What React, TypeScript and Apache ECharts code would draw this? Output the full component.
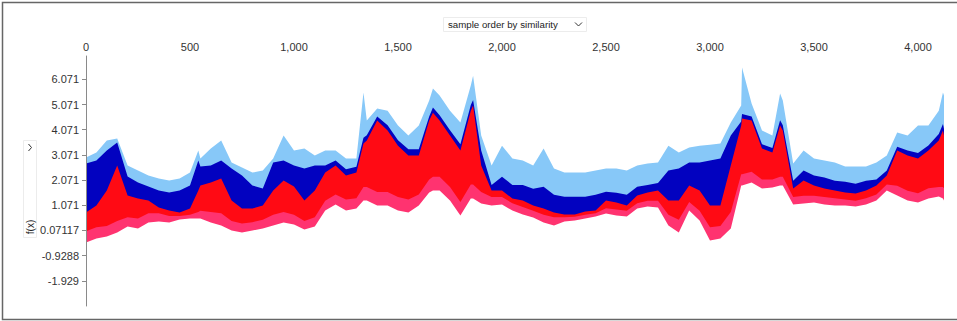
import React, { useEffect, useRef } from "react";
import * as echarts from "echarts";

// sample positions (ordered by similarity)
const sampleIndex = [
  0, 50, 100, 150, 200, 250, 300, 350, 400, 450, 500, 540, 550, 600, 650, 700, 750, 800, 850, 900,
  950, 1000, 1050, 1100, 1150, 1200, 1250, 1300, 1334, 1350, 1400, 1450, 1500, 1550, 1600, 1650, 1668, 1700, 1750, 1800,
  1850, 1861, 1900, 1950, 2000, 2050, 2100, 2150, 2200, 2250, 2300, 2350, 2400, 2450, 2500, 2550, 2600, 2650, 2700, 2750,
  2800, 2850, 2900, 2950, 3000, 3050, 3100, 3150, 3154, 3200, 3250, 3300, 3337, 3350, 3400, 3450, 3500, 3550, 3600, 3650,
  3700, 3750, 3800, 3850, 3900, 3950, 4000, 4050, 4100, 4120, 4125,
];

// upper edge of the negative (blue) forces
const topEdge = [
  2.97, 3.17, 3.64, 3.72, 2.65, 2.45, 2.25, 2.13, 2.06, 2.13, 2.37, 3.25, 2.93, 3.33, 3.64, 2.77, 2.57, 2.37, 2.45, 2.93,
  3.84, 3.25, 3.33, 3.05, 3.25, 3.25, 2.93, 2.93, 5.55, 4.44, 4.91, 4.83, 4.24, 3.84, 4.24, 5.23, 5.71, 5.43, 4.83, 4.36,
  5.83, 6.22, 3.84, 2.65, 3.44, 2.93, 2.85, 2.65, 3.33, 2.53, 2.37, 2.37, 2.37, 2.45, 2.53, 2.53, 2.45, 2.65, 2.73, 2.77,
  3.44, 3.17, 3.37, 3.44, 3.48, 3.52, 4.36, 5.03, 6.54, 5.11, 4.04, 3.84, 5.51, 5.23, 2.73, 3.25, 2.93, 2.85, 2.77, 2.61,
  2.61, 2.61, 2.77, 3.05, 3.96, 3.84, 4.24, 4.24, 4.83, 5.55, 5.43,
];

// boundary between the dark-blue and light-blue forces
const darkBlueEdge = [
  2.73, 2.85, 3.25, 3.56, 2.21, 1.98, 1.82, 1.66, 1.58, 1.66, 1.86, 2.85, 2.61, 2.65, 2.85, 2.53, 2.25, 1.86, 1.74, 2.77,
  2.85, 2.65, 2.53, 2.65, 2.65, 2.85, 2.5, 2.6, 3.75, 3.85, 4.6, 4.25, 3.65, 3.3, 3.3, 4.6, 4.95, 4.65, 4.05, 3.5,
  5.05, 5.25, 3.25, 1.88, 2.2, 1.88, 1.88, 1.73, 1.81, 1.49, 1.41, 1.41, 1.41, 1.49, 1.61, 1.57, 1.49, 1.81, 1.88, 1.96,
  2.45, 2.53, 2.77, 2.77, 2.85, 2.93, 3.84, 4.4, 4.7, 4.6, 3.5, 3.35, 4.45, 4.25, 2.05, 2.45, 2.25, 2.17, 2.05, 2.01,
  1.93, 2.05, 2.1, 2.45, 3.4, 3.25, 3.15, 3.45, 3.9, 4.3, 4.1,
];

// model output f(x)
const fxValue = [
  0.78, 1.06, 1.66, 2.65, 1.46, 1.34, 1.26, 0.98, 0.86, 0.78, 0.94, 1.66, 1.86, 1.98, 2.13, 1.26, 0.94, 0.94, 1.06, 1.66,
  2.06, 1.82, 1.26, 1.66, 2.37, 2.65, 2.25, 2.37, 3.52, 3.64, 4.44, 4.04, 3.44, 3.05, 3.05, 4.44, 4.75, 4.44, 3.84, 3.25,
  4.83, 5.03, 2.65, 1.66, 1.66, 1.34, 1.26, 1.06, 0.94, 0.78, 0.71, 0.71, 0.82, 0.86, 1.26, 1.18, 1.06, 1.46, 1.58, 1.66,
  1.26, 1.26, 1.86, 1.66, 1.06, 1.06, 2.65, 4.24, 4.52, 4.44, 3.33, 3.17, 4.24, 4.04, 1.74, 2.06, 1.86, 1.74, 1.66, 1.58,
  1.54, 1.66, 1.86, 2.25, 3.25, 3.05, 2.93, 3.25, 3.64, 4.04, 3.84,
];

// boundary between the red and pink positive forces
const pinkEdge = [
  0.04, 0.2, 0.25, 0.45, 0.6, 0.55, 0.75, 0.75, 0.65, 0.65, 0.7, 0.8, 0.85, 0.8, 0.75, 0.45, 0.35, 0.4, 0.5, 0.7,
  0.8, 0.7, 0.45, 0.6, 1.25, 1.5, 1.3, 1.35, 1.8, 1.8, 1.6, 1.6, 1.4, 1.3, 1.5, 2.1, 2.2, 2.2, 1.8, 1.2,
  1.9, 1.9, 1.6, 1.4, 1.4, 1.15, 1.0, 0.85, 0.7, 0.6, 0.6, 0.62, 0.7, 0.75, 0.95, 0.9, 0.85, 1.15, 1.25, 1.25,
  0.7, 0.5, 1.2, 0.85, 0.2, 0.25, 0.8, 2.3, 2.3, 2.4, 2.1, 2.1, 2.2, 2.2, 1.4, 1.45, 1.45, 1.4, 1.35, 1.3,
  1.25, 1.35, 1.5, 1.9, 1.85, 1.65, 1.55, 1.75, 1.8, 1.8, 1.75,
];

// lower edge of the positive (red) forces
const lowEdge = [
  -0.41, -0.25, -0.17, -0.01, 0.23, 0.15, 0.39, 0.43, 0.39, 0.51, 0.55, 0.55, 0.55, 0.39, 0.27, 0.07, -0.01, 0.07, 0.15, 0.27,
  0.39, 0.31, 0.11, 0.23, 0.86, 1.1, 0.86, 0.94, 1.26, 1.26, 1.06, 1.06, 0.86, 0.78, 1.06, 1.58, 1.66, 1.66, 1.26, 0.67,
  1.34, 1.34, 1.14, 1.06, 1.1, 0.86, 0.71, 0.59, 0.39, 0.27, 0.43, 0.47, 0.55, 0.63, 0.74, 0.67, 0.63, 0.94, 1.02, 0.98,
  0.27, -0.01, 0.86, 0.47, -0.33, -0.25, 0.15, 1.86, 1.86, 1.98, 1.74, 1.78, 1.86, 1.86, 1.1, 1.14, 1.18, 1.1, 1.06, 1.06,
  1.02, 1.1, 1.26, 1.66, 1.46, 1.26, 1.18, 1.34, 1.42, 1.34, 1.26,
];

const xTickValues = [0, 500, 1000, 1500, 2000, 2500, 3000, 3500, 4000];
const yTickValues = [-1.92883, -0.92883, 0.07117, 1.07117, 2.07117, 3.07117, 4.07117, 5.07117, 6.07117];
const yTickLabels = ["-1.929", "-0.9288", "0.07117", "1.071", "2.071", "3.071", "4.071", "5.071", "6.071"];

const FONT = "'Liberation Sans', Arial, Helvetica, sans-serif";

export default function App() {
  const ref = useRef<HTMLDivElement>(null);

  useEffect(() => {
    if (!ref.current) return;
    const chart = echarts.init(ref.current, undefined, { renderer: "svg" });

    const bands = [
      { name: "negative light", vals: topEdge, color: "#87c8f8" },
      { name: "negative dark", vals: darkBlueEdge, color: "#0202c0" },
      { name: "positive red", vals: fxValue, color: "#ff0a14" },
      { name: "positive pink", vals: pinkEdge, color: "#ff3370" },
      { name: "below", vals: lowEdge, color: "#ffffff" },
    ];

    const series = bands.map((b, i) => ({
      type: "line",
      name: b.name,
      data: sampleIndex.map((s, j) => [s, b.vals[j]]),
      showSymbol: false,
      symbol: "none",
      silent: true,
      z: 2 + i,
      lineStyle: { width: 0 },
      areaStyle: { color: b.color, opacity: 1, origin: "start" },
    }));

    const option: any = {
      animation: false,
      textStyle: { fontFamily: FONT },
      grid: {
        left: 86,
        top: 56,
        width: 858,
        height: 250,
        containLabel: false,
        outerBoundsMode: "none",
      },
      xAxis: {
        type: "value",
        position: "top",
        min: 0,
        max: 4125,
        interval: 500,
        axisLine: { show: false },
        splitLine: { show: false },
        axisTick: {
          show: true,
          inside: true,
          length: 3,
          lineStyle: { color: "#999" },
          customValues: xTickValues,
        },
        axisLabel: {
          color: "#333",
          fontSize: 11,
          fontFamily: FONT,
          margin: 4,
          customValues: xTickValues,
          formatter: (v: number) => v.toLocaleString("en-US"),
        },
      },
      yAxis: {
        type: "value",
        min: -2.92883,
        max: 7.0,
        z: 20,
        axisLine: { show: true, lineStyle: { color: "#8a8a8a", width: 1 } },
        splitLine: { show: false },
        axisTick: {
          show: true,
          length: 4,
          lineStyle: { color: "#8a8a8a" },
          customValues: yTickValues,
        },
        axisLabel: {
          color: "#333",
          fontSize: 11,
          fontFamily: FONT,
          margin: 7,
          customValues: yTickValues,
          formatter: (v: number) => {
            const i = yTickValues.findIndex((t) => Math.abs(t - v) < 1e-4);
            return i >= 0 ? yTickLabels[i] : "";
          },
        },
      },
      series,
      graphic: [
        {
          type: "rect",
          silent: true,
          z: 100,
          shape: { x: 2.5, y: 2.5, width: 1000, height: 317 },
          style: { fill: "none", stroke: "#666", lineWidth: 1.5 },
        },
        {
          type: "rect",
          silent: true,
          shape: { x: 443.5, y: 17.5, width: 143, height: 14 },
          style: { fill: "#fff", stroke: "#ececec", lineWidth: 1 },
        },
        {
          type: "text",
          silent: true,
          x: 448,
          y: 24.5,
          style: {
            text: "sample order by similarity",
            fill: "#222",
            fontSize: 9.7,
            fontFamily: FONT,
            verticalAlign: "middle",
            align: "left",
          },
        },
        {
          type: "polyline",
          silent: true,
          shape: { points: [[575, 22.5], [578.5, 26], [582, 22.5]] },
          style: { stroke: "#333", lineWidth: 1, fill: "none" },
        },
        {
          type: "rect",
          silent: true,
          shape: { x: 23.5, y: 140.5, width: 13, height: 97 },
          style: { fill: "#fff", stroke: "#ececec", lineWidth: 1 },
        },
        {
          type: "polyline",
          silent: true,
          shape: { points: [[28.5, 144], [31.5, 147.5], [28.5, 151]] },
          style: { stroke: "#333", lineWidth: 1, fill: "none" },
        },
        {
          type: "text",
          silent: true,
          x: 30,
          y: 227,
          rotation: Math.PI / 2,
          style: {
            text: "f(x)",
            fill: "#222",
            fontSize: 10,
            fontFamily: FONT,
            align: "center",
            verticalAlign: "middle",
          },
        },
      ],
    };

    chart.setOption(option);
    return () => chart.dispose();
  }, []);

  return (
    <div
      ref={ref}
      style={{ position: "absolute", left: 0, top: 0, width: 957, height: 321, background: "#fff" }}
    />
  );
}
